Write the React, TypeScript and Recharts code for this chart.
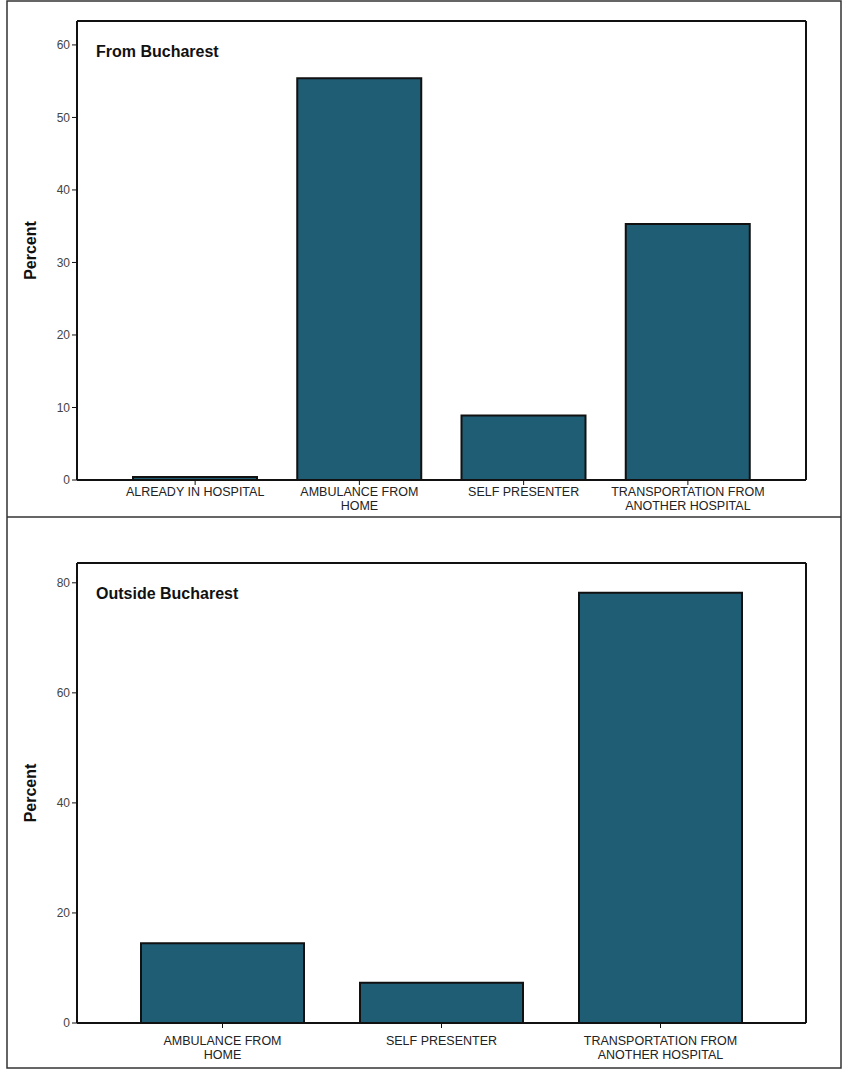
import React from 'react';
import { BarChart, Bar, XAxis, YAxis, CartesianGrid } from 'recharts';

// From Bucharest
const topCategories = ['ALREADY IN HOSPITAL', 'AMBULANCE FROM\nHOME', 'SELF PRESENTER', 'TRANSPORTATION FROM\nANOTHER HOSPITAL'];
const topPercent = [0.4, 55.4, 8.9, 35.3];
const topTicks = [0, 10, 20, 30, 40, 50, 60];

// Outside Bucharest
const bottomCategories = ['AMBULANCE FROM\nHOME', 'SELF PRESENTER', 'TRANSPORTATION FROM\nANOTHER HOSPITAL'];
const bottomPercent = [14.5, 7.3, 78.2];
const bottomTicks = [0, 20, 40, 60, 80];

const BAR_FILL = '#1f5d74';
const FONT = 'Arial, "Liberation Sans", sans-serif';

if (typeof document !== 'undefined') {
  document.body.style.margin = '0';
}

const CategoryTick = ({ x, y, payload, dy }: any) => {
  const lines = String(payload.value).split('\n');
  return (
    <text x={x} y={y} textAnchor="middle" fontFamily={FONT} fontSize={12.5} fill="#222">
      {lines.map((line, i) => (
        <tspan key={i} x={x} dy={i === 0 ? dy : 13.5}>{line}</tspan>
      ))}
    </text>
  );
};

type PanelProps = {
  title: string;
  categories: string[];
  values: number[];
  ticks: number[];
  yMax: number;
  height: number;
  marginTop: number;
  xAxisHeight: number;
  barSize: number;
  labelDy: number;
};

const Panel: React.FC<PanelProps> = ({ title, categories, values, ticks, yMax, height, marginTop, xAxisHeight, barSize, labelDy }) => {
  const data = categories.map((c, i) => ({ name: c, percent: values[i] }));
  return (
    <div style={{ position: 'relative', width: 843, height }}>
      <BarChart width={843} height={height} data={data} margin={{ top: marginTop, right: 37, left: 0, bottom: 0 }}>
        {/* top and right edges of the plot frame */}
        <CartesianGrid
          stroke="#111"
          strokeWidth={2}
          horizontalCoordinatesGenerator={({ offset }: any) => [offset.top]}
          verticalCoordinatesGenerator={({ offset }: any) => [offset.left + offset.width]}
        />
        <XAxis
          dataKey="name"
          height={xAxisHeight}
          padding={{ left: 36, right: 36 }}
          axisLine={{ stroke: '#111', strokeWidth: 2 }}
          tickLine={{ stroke: '#111' }}
          tickSize={5}
          interval={0}
          tick={<CategoryTick dy={labelDy} />}
        />
        <YAxis
          width={77}
          domain={[0, yMax]}
          ticks={ticks}
          allowDataOverflow
          axisLine={{ stroke: '#111', strokeWidth: 2 }}
          tickLine={{ stroke: '#111' }}
          tickSize={5}
          tick={{ fill: '#444', fontSize: 12, fontFamily: FONT }}
          label={{ value: 'Percent', angle: -90, position: 'insideLeft', offset: 30, style: { textAnchor: 'middle', fontWeight: 'bold', fontSize: 16, fill: '#111', fontFamily: FONT } }}
        />
        <Bar
          dataKey="percent"
          fill={BAR_FILL}
          stroke="#111"
          strokeWidth={2}
          barSize={barSize}
          isAnimationActive={false}
        />
      </BarChart>
      <div style={{ position: 'absolute', left: 96, top: marginTop + 22, fontFamily: FONT, fontWeight: 'bold', fontSize: 16, color: '#111' }}>
        {title}
      </div>
    </div>
  );
};

export default function App() {
  return (
    <div style={{ position: 'relative', width: 843, height: 1070, background: '#fff', overflow: 'hidden' }}>
      <div style={{ position: 'absolute', left: 0, top: 0 }}>
        <Panel
          title="From Bucharest"
          categories={topCategories}
          values={topPercent}
          ticks={topTicks}
          yMax={63.3}
          height={517}
          marginTop={21}
          xAxisHeight={37}
          barSize={124}
          labelDy={9}
        />
      </div>
      <div style={{ position: 'absolute', left: 0, top: 517 }}>
        <Panel
          title="Outside Bucharest"
          categories={bottomCategories}
          values={bottomPercent}
          ticks={bottomTicks}
          yMax={83.6}
          height={553}
          marginTop={46}
          xAxisHeight={47}
          barSize={163}
          labelDy={15}
        />
      </div>
      {/* outer frame and divider */}
      <svg width={843} height={1070} style={{ position: 'absolute', left: 0, top: 0, pointerEvents: 'none' }}>
        <rect x={7} y={1} width={834} height={1067} fill="none" stroke="#333" strokeWidth={1.5} />
        <line x1={7} y1={517} x2={841} y2={517} stroke="#333" strokeWidth={1.5} />
      </svg>
    </div>
  );
}
